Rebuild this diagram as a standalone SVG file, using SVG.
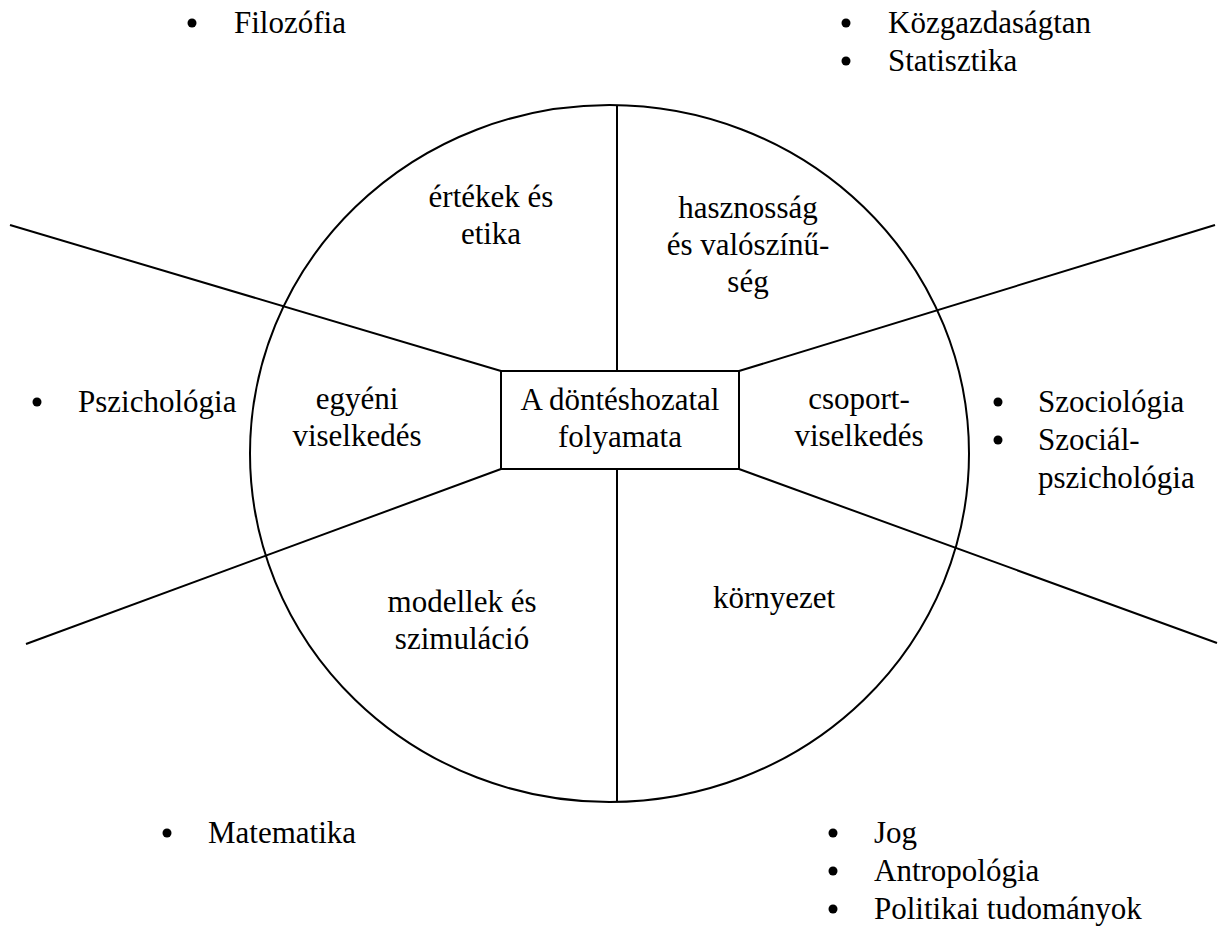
<svg xmlns="http://www.w3.org/2000/svg" width="1225" height="932" viewBox="0 0 1225 932">
<style>
.ln{stroke:#000;stroke-width:2;fill:none}
.t{font-family:'Liberation Serif','Times New Roman','DejaVu Serif',serif;font-size:31px;fill:#000}
.c{text-anchor:middle}
.b{fill:#000}
</style>
<rect width="1225" height="932" fill="#fff"/>
<g id="connectors">
<ellipse class="ln" cx="609.5" cy="453.5" rx="359.5" ry="348.5"/>
<line class="ln" x1="617" y1="105" x2="617" y2="371"/>
<line class="ln" x1="617" y1="469" x2="617" y2="802"/>
<line class="ln" x1="10" y1="225" x2="501" y2="371"/>
<line class="ln" x1="1215" y1="225" x2="739" y2="371"/>
<line class="ln" x1="26" y1="644" x2="501" y2="469"/>
<line class="ln" x1="1217" y1="643" x2="739" y2="469"/>
</g>
<g font-family="Liberation Serif, Times New Roman, serif" font-size="31">
<g id="center">
<rect class="ln" x="501" y="371" width="238" height="98" fill="#fff"/>
<text class="t c" x="620" y="410">A döntéshozatal</text>
<text class="t c" x="620" y="447">folyamata</text>
</g>
<g id="ertekek"><text class="t c" x="491" y="207">értékek és</text><text class="t c" x="491" y="244">etika</text></g>
<g id="hasznossag"><text class="t c" x="748" y="218">hasznosság</text><text class="t c" x="748" y="255">és valószínű-</text><text class="t c" x="748" y="292">ség</text></g>
<g id="csoport"><text class="t c" x="859" y="409">csoport-</text><text class="t c" x="859" y="446">viselkedés</text></g>
<g id="egyeni"><text class="t c" x="357" y="409">egyéni</text><text class="t c" x="357" y="446">viselkedés</text></g>
<g id="modellek"><text class="t c" x="462" y="612">modellek és</text><text class="t c" x="462" y="649">szimuláció</text></g>
<g id="kornyezet"><text class="t c" x="774" y="608">környezet</text></g>
<g id="filozofia"><circle class="b" cx="192" cy="23" r="4.5"/><text class="t" x="234" y="33">Filozófia</text></g>
<g id="kozgazd"><circle class="b" cx="846" cy="23" r="4.5"/><text class="t" x="888" y="33">Közgazdaságtan</text><circle class="b" cx="846" cy="61" r="4.5"/><text class="t" x="888" y="71">Statisztika</text></g>
<g id="pszich"><circle class="b" cx="37" cy="402" r="4.5"/><text class="t" x="78" y="412">Pszichológia</text></g>
<g id="szoc"><circle class="b" cx="998" cy="402" r="4.5"/><text class="t" x="1038" y="412">Szociológia</text><circle class="b" cx="998" cy="440" r="4.5"/><text class="t" x="1038" y="450">Szociál-</text><text class="t" x="1038" y="488">pszichológia</text></g>
<g id="matek"><circle class="b" cx="167" cy="833" r="4.5"/><text class="t" x="208" y="843">Matematika</text></g>
<g id="jog"><circle class="b" cx="833" cy="833" r="4.5"/><text class="t" x="874" y="843">Jog</text><circle class="b" cx="833" cy="871" r="4.5"/><text class="t" x="874" y="881">Antropológia</text><circle class="b" cx="833" cy="909" r="4.5"/><text class="t" x="874" y="919">Politikai tudományok</text></g>
</g>
</svg>
